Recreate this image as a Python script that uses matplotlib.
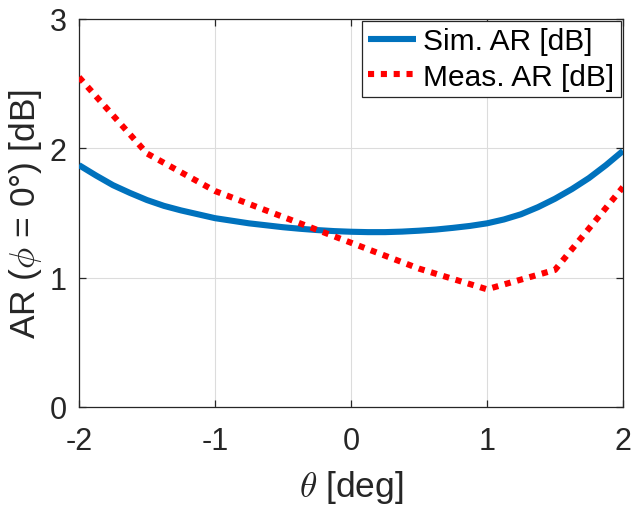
import matplotlib
matplotlib.use("Agg")
import matplotlib.pyplot as plt

# Simulated axial ratio vs. theta
theta_sim = [-2.0, -1.875, -1.75, -1.625, -1.5, -1.375, -1.25, -1.125, -1.0,
             -0.875, -0.75, -0.625, -0.5, -0.375, -0.25, -0.125, 0.0,
             0.125, 0.25, 0.375, 0.5, 0.625, 0.75, 0.875, 1.0,
             1.125, 1.25, 1.375, 1.5, 1.625, 1.75, 1.875, 2.0]
ar_sim = [1.87, 1.79, 1.715, 1.655, 1.60, 1.555, 1.52, 1.49, 1.46,
          1.44, 1.42, 1.405, 1.39, 1.378, 1.368, 1.36, 1.355,
          1.352, 1.352, 1.356, 1.363, 1.372, 1.385, 1.40, 1.42,
          1.45, 1.49, 1.545, 1.61, 1.685, 1.77, 1.87, 1.98]

# Measured axial ratio vs. theta
theta_meas = [-2.0, -1.5, -1.0, -0.5, 0.0, 0.5, 1.0, 1.5, 2.0]
ar_meas = [2.55, 1.96, 1.67, 1.47, 1.27, 1.07, 0.91, 1.06, 1.70]

xticks = [-2, -1, 0, 1, 2]
yticks = [0, 1, 2, 3]

plt.rcParams["font.family"] = ["Liberation Sans", "DejaVu Sans"]
plt.rcParams["mathtext.fontset"] = "cm"

fig = plt.figure(figsize=(6.34, 5.06), dpi=100)
ax = fig.add_axes([0.1246, 0.1937, 0.8580, 0.7668])

ax.plot(theta_sim, ar_sim, color="#0072BD", lw=4.4, solid_capstyle="butt",
        solid_joinstyle="round", label="Sim. AR [dB]", zorder=3)
ax.plot(theta_meas, ar_meas, color="#FF0000", lw=4.4,
        linestyle=(0, (1, 1.1)), dash_capstyle="butt",
        label="Meas. AR [dB]", zorder=3)

ax.set_xlim(-2, 2)
ax.set_ylim(0, 3)
ax.set_xticks(xticks)
ax.set_yticks(yticks)
ax.set_xticklabels([str(v) for v in xticks])
ax.set_yticklabels([str(v) for v in yticks])

axcol = "#262626"
ax.grid(True, color="#DCDCDC", lw=0.8)
ax.set_axisbelow(True)
for s in ax.spines.values():
    s.set_color(axcol)
    s.set_linewidth(0.9)
ax.tick_params(direction="in", length=5, width=0.9, colors=axcol,
               labelsize=22, top=True, right=True)
ax.tick_params(axis="x", pad=14)
ax.tick_params(axis="y", pad=9)

ax.set_xlabel(r"$\theta$ [deg]", fontsize=25.5, color=axcol, labelpad=8)
ax.set_ylabel(r"AR ($\phi$ = 0°) [dB]", fontsize=25.5, color=axcol, labelpad=4)

leg = ax.legend(loc="upper right", fontsize=21.5, frameon=True, fancybox=False,
                edgecolor=axcol, framealpha=1, handlelength=1.6,
                handletextpad=0.25, borderpad=0.2, labelspacing=0.25,
                borderaxespad=0.08)
leg.get_frame().set_linewidth(0.9)

fig.savefig("out.png", dpi=100)
